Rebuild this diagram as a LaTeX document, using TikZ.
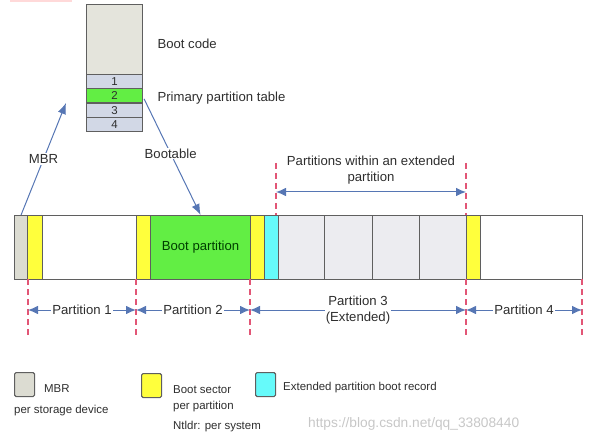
\documentclass[tikz,border=0pt]{standalone}
\usepackage{fontspec}
\setmainfont{Liberation Sans}
\usetikzlibrary{calc,arrows.meta}

\definecolor{edgegray}{HTML}{5F5F5F}
\definecolor{txtgray}{HTML}{2E2E2E}
\definecolor{mbrgray}{HTML}{DCDCD2}
\definecolor{codegray}{HTML}{E4E4DC}
\definecolor{rowblue}{HTML}{D2D8E6}
\definecolor{bootyellow}{HTML}{FFFF3C}
\definecolor{bootgreen}{HTML}{62EE44}
\definecolor{extcyan}{HTML}{66FAFA}
\definecolor{extgray}{HTML}{ECECF0}
\definecolor{guidered}{HTML}{E25676}
\definecolor{ptrblue}{HTML}{5676B4}

\begin{document}
\begin{tikzpicture}[x=1bp,y=-1bp,text=txtgray,
    font=\fontsize{13.2}{15}\selectfont,
    seg/.style={draw=edgegray,line width=1.1bp,inner sep=0,minimum height=64bp,anchor=north west},
    tabrow/.style={draw=edgegray,line width=1.1bp,inner sep=0,minimum width=56bp,minimum height=14.25bp,
        anchor=north west,font=\fontsize{11.5}{12}\selectfont},
    guide/.style={draw=guidered,line width=1.2bp,dash pattern=on 6bp off 4bp},
    dimline/.style={draw=ptrblue,line width=1bp,{Latex[length=10bp,width=8.5bp]}-{Latex[length=10bp,width=8.5bp]}},
    ptr/.style={draw=ptrblue,line width=1bp,-{Latex[length=11bp,width=8.5bp]}},
    lab/.style={fill=white,inner sep=1bp},
    keybox/.style={draw=edgegray,line width=1.1bp,rounded corners=1.5bp,minimum width=20bp,minimum height=24bp,anchor=north west,inner sep=0},
    keytext/.style={anchor=west,font=\fontsize{11.5}{12}\selectfont,inner sep=0}]

    \useasboundingbox (0,0) rectangle (615,443);
    \fill[pink!60] (10,0) rectangle (72,2);

    % MBR sector
    \node[seg,fill=codegray,minimum width=56bp,minimum height=70bp] (code) at (86,4) {};
    \foreach \i/\col in {1/rowblue,2/bootgreen,3/rowblue,4/rowblue}
        \node[tabrow,fill=\col] (t\i) at ($(86,74)+(0,{(\i-1)*14.25})$) {\i};

    \node[anchor=west] (codelab) at (154,44) {Boot code};
    \node[anchor=west] (tablab) at (154,98) {Primary partition table};

    % disk
    \foreach \n/\x/\w/\col in {mbr/14/13/mbrgray, bs1/27/15/bootyellow, p1/42/94/white,
            bs2/136/14/bootyellow, bootp/150/100/bootgreen, bs3/250/14/bootyellow,
            ebr/264/14/extcyan, e1/278/46/extgray, e2/324/48/extgray, e3/372/47/extgray,
            e4/419/47/extgray, bs4/466/14/bootyellow, p4/480/102/white}
        \node[seg,fill=\col,minimum width=\w bp] (\n) at (\x,215) {};

    \node[text=green!25!black] at (bootp) {Boot partition};

    % guides
    \foreach \n/\x in {a/28,b/136,c/250,d/466,e/582}
        {
            \draw[guide] (\x,279) -- (\x,335);
            \coordinate (\n) at (\x,310);
        }
    \draw[guide] (276,163) -- (276,215);
    \draw[guide] (466,163) -- (466,215);
    \coordinate (xa) at (276,192);
    \coordinate (xb) at (466,192);

    \draw[dimline] (a) -- node[lab] {Partition 1} (b);
    \draw[dimline] (b) -- node[lab] {Partition 2} (c);
    \draw[dimline] (c) -- node[lab,align=center,font=\fontsize{13.2}{15.5}\selectfont] {Partition 3\\(Extended)} (d);
    \draw[dimline] (d) -- node[lab] {Partition 4} (e);
    \draw[dimline] (xa) -- (xb);
    \node[align=center,font=\fontsize{13.2}{15.5}\selectfont] (extlab) at (371,170) {Partitions within an extended\\partition};

    % pointers
    \coordinate (mbrtip) at (66,103);
    \draw[ptr] (mbr.north) -- node[lab] {MBR} (mbrtip);
    \draw[ptr] ($(t2.east)+(1,3)$) -- node[lab,pos=0.47] {Bootable} (bootp.north);

    % legend
    \node[keybox,fill=mbrgray] (k1) at (14,372) {};
    \node[keytext] at (44,389) {MBR};
    \node[keytext] at (14,411) {per storage device};
    \node[keybox,fill=bootyellow] (k2) at (141,373) {};
    \node[keytext] at (173,390) {Boot sector};
    \node[keytext] at (173,407) {per partition};
    \node[keytext] at (173,427) {Ntldr: per system};
    \node[keybox,fill=extcyan] (k3) at (255,372) {};
    \node[keytext] at (283,388) {Extended partition boot record};

    \node[anchor=west,inner sep=0,text=black!22,font=\fontsize{13.8}{15}\selectfont] at (308,424) {https://blog.csdn.net/qq\_33808440};

\end{tikzpicture}
\end{document}
